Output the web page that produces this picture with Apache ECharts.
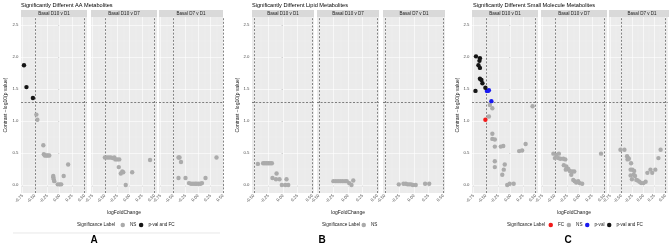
<!DOCTYPE html>
<html><head><meta charset="utf-8">
<script src="https://cdn.jsdelivr.net/npm/echarts@6/dist/echarts.min.js"></script>
<style>html,body{margin:0;padding:0;background:#fff}#c{width:669px;height:245px}</style>
</head><body><div id="c"></div>
<script>
// ---------- tick labels / categories ----------
const facetNames = ['Basal D10 v D1', 'Basal D10 v D7', 'Basal D7 v D1'];
const yTicks = [0, 0.5, 1, 1.5, 2, 2.5];
const yMinor = [0.25, 0.75, 1.25, 1.75, 2.25];
const xTicksAC = [-0.75, -0.5, -0.25, 0, 0.25, 0.5];
const xMinorAC = [-0.625, -0.375, -0.125, 0.125, 0.375];
const xTicksB = [-0.5, -0.25, 0, 0.25, 0.5];
const xMinorB = [-0.375, -0.125, 0.125, 0.375];
const fcThresholds = [-0.5, 0.5];
const pThreshold = 1.30103;
const sigLabels = ['NS', 'FC', 'p-val', 'p-val and FC'];

// ---------- Panel A: AA metabolites ----------
const A1_sig = [[-0.72,1.87],[-0.67,1.53],[-0.54,1.36]];
const A1_ns = [[-0.47,1.10],[-0.45,1.02],[-0.33,0.62],[-0.32,0.48],[-0.30,0.46],[-0.27,0.46],[-0.24,0.46],[-0.21,0.46],
  [-0.13,0.14],[-0.13,0.12],[-0.12,0.09],[-0.11,0.06],[-0.04,0.01],[0.00,0.01],[0.03,0.01],[0.08,0.14],[0.17,0.32]];
const A2_ns = [[-0.50,0.43],[-0.46,0.43],[-0.42,0.43],[-0.38,0.43],[-0.34,0.42],[-0.31,0.43],[-0.29,0.40],[-0.25,0.40],[-0.21,0.40],
  [-0.22,0.28],[-0.15,0.21],[-0.13,0.20],[-0.18,0.18],[-0.08,0.00],[0.05,0.20],[0.41,0.39]];
const A3_ns = [[-0.39,0.43],[-0.37,0.43],[-0.34,0.36],[-0.39,0.11],[-0.25,0.11],[-0.18,0.03],[-0.14,0.02],[-0.10,0.02],[-0.06,0.02],
  [-0.03,0.02],[0.01,0.02],[0.05,0.02],[0.08,0.03],[0.15,0.11],[0.37,0.43]];

// ---------- Panel B: lipid metabolites ----------
const B1_ns = [[-0.43,0.33],[-0.34,0.34],[-0.31,0.34],[-0.28,0.34],[-0.25,0.34],[-0.22,0.34],[-0.19,0.34],[-0.11,0.18],
  [-0.18,0.11],[-0.12,0.09],[-0.06,0.09],[-0.02,0.00],[0.04,0.00],[0.09,0.00],[0.06,0.09]];
const B2_ns = [[-0.25,0.06],[-0.21,0.06],[-0.17,0.06],[-0.13,0.06],[-0.09,0.06],[-0.05,0.06],[-0.02,0.06],[0.02,0.03],[0.06,0.00],[0.09,0.07]];
const B3_ns = [[-0.26,0.01],[-0.18,0.02],[-0.14,0.02],[-0.11,0.01],[-0.08,0.01],[-0.05,0.01],[-0.02,0.00],[0.03,0.00],[0.19,0.02],[0.26,0.02]];

// ---------- Panel C: small molecule metabolites ----------
const C1_sig = [[-0.70,2.01],[-0.62,1.98],[-0.63,1.94],[-0.65,1.87],[-0.62,1.83],[-0.62,1.66],[-0.59,1.64],[-0.57,1.59],[-0.51,1.52],[-0.71,1.47]];
const C1_p = [[-0.48,1.47],[-0.46,1.47],[-0.44,1.48],[-0.39,1.31]];
const C1_fc = [[-0.51,1.02]];
const C1_ns = [[-0.42,1.25],[-0.37,1.20],[-0.44,1.07],[0.44,1.23],[-0.37,0.80],[-0.37,0.72],[-0.32,0.71],[-0.32,0.60],[-0.20,0.60],[-0.15,0.61],
  [-0.32,0.37],[-0.32,0.28],[-0.12,0.32],[-0.14,0.24],[-0.17,0.16],[-0.07,0.00],[-0.02,0.02],[0.06,0.02],[0.17,0.53],[0.23,0.54],[0.30,0.64]];
const C2_ns = [[-0.53,0.49],[-0.47,0.47],[-0.42,0.49],[-0.50,0.42],[-0.43,0.42],[-0.39,0.41],[-0.33,0.41],[-0.29,0.40],[-0.32,0.31],[-0.27,0.29],
  [-0.23,0.25],[-0.28,0.24],[-0.20,0.22],[-0.15,0.21],[-0.11,0.21],[-0.17,0.16],[-0.13,0.08],[-0.10,0.06],[-0.07,0.04],[0.00,0.03],[0.05,0.02],[-0.03,0.06],[0.43,0.49]];
const C3_ns = [[-0.52,0.55],[-0.43,0.55],[-0.37,0.45],[-0.35,0.42],[-0.36,0.40],[-0.33,0.41],[-0.28,0.34],[-0.29,0.24],[-0.25,0.24],[-0.21,0.22],
  [-0.29,0.15],[-0.22,0.16],[-0.19,0.14],[-0.26,0.09],[-0.16,0.08],[-0.13,0.07],[-0.09,0.05],[-0.05,0.03],[0.00,0.03],[0.05,0.05],
  [0.09,0.19],[0.16,0.24],[0.20,0.19],[0.27,0.24],[0.34,0.42],[0.39,0.55]];

// ---------- styling ----------
const FONT = '"Liberation Sans", Arial, sans-serif';
const colors = {'NS':'#ababab','FC':'#f21a1a','p-val':'#1a1af0','p-val and FC':'#151515'};
const GRID_TOP = 17, GRID_H = 176, Y_MIN = -0.125, Y_MAX = 2.625;

const panels = [
  {letter:'A', title:'Significantly Different AA Metabolites', titleX:21,
   lefts:[21,91,159], widths:[66,66,64], xMin:-0.78, xMaxs:[0.55,0.55,0.50],
   xTicks:xTicksAC, xMinor:xMinorAC, yNameGap:13, letterX:94, legendTitleX:77, legendLeft:120.5,
   legendItems:['NS','p-val and FC'],
   facets:[{'NS':A1_ns,'p-val and FC':A1_sig},{'NS':A2_ns},{'NS':A3_ns}], sep:true},
  {letter:'B', title:'Significantly Different Lipid Metabolites', titleX:252,
   lefts:[252,317,383], widths:[62,62,62], xMin:-0.53, xMaxs:[0.53,0.53,0.53],
   xTicks:xTicksB, xMinor:xMinorB, yNameGap:9.5, letterX:322, legendTitleX:322, legendLeft:361.5,
   legendItems:['NS'],
   facets:[{'NS':B1_ns},{'NS':B2_ns},{'NS':B3_ns}], sep:false},
  {letter:'C', title:'Significantly Different Small Molecule Metabolites', titleX:473,
   lefts:[472,541,609], widths:[66,66,66], xMin:-0.78, xMaxs:[0.55,0.55,0.55],
   xTicks:xTicksAC, xMinor:xMinorAC, yNameGap:11.5, letterX:568, legendTitleX:507, legendLeft:548.5,
   legendItems:['FC','NS','p-val','p-val and FC'],
   facets:[{'NS':C1_ns,'FC':C1_fc,'p-val':C1_p,'p-val and FC':C1_sig},{'NS':C2_ns},{'NS':C3_ns}], sep:false}
];

const grids=[], xAxes=[], yAxes=[], series=[], graphics=[], legends=[];
let gi = 0;
panels.forEach(p => {
  graphics.push({type:'text', x:p.titleX, y:5, style:{text:p.title, font:'5.6px '+FONT, fill:'#000', textAlign:'left', textVerticalAlign:'middle'}});
  p.facets.forEach((f, k) => {
    const left = p.lefts[k], w = p.widths[k];
    grids.push({left:left, top:GRID_TOP, width:w, height:GRID_H, show:true, backgroundColor:'#ebebeb', borderWidth:0, containLabel:false});
    xAxes.push({gridIndex:gi, type:'value', min:p.xMin, max:p.xMaxs[k],
      axisLine:{show:false}, splitLine:{show:false},
      axisTick:{show:true, customValues:p.xTicks, length:1.5, lineStyle:{color:'#333', width:0.5}},
      axisLabel:{show:true, customValues:p.xTicks, rotate:45, fontSize:4.3, fontFamily:FONT, color:'#4d4d4d', margin:2,
        formatter:v=>Number(v).toFixed(2)},
      name: k===1 ? 'logFoldChange' : '', nameLocation:'middle', nameGap:14,
      nameTextStyle:{fontSize:5, fontFamily:FONT, color:'#1a1a1a'}});
    yAxes.push({gridIndex:gi, type:'value', min:Y_MIN, max:Y_MAX,
      axisLine:{show:false}, splitLine:{show:false},
      axisTick:{show:k===0, customValues:yTicks, length:1.5, lineStyle:{color:'#333', width:0.5}},
      axisLabel:{show:k===0, customValues:yTicks, fontSize:4.3, fontFamily:FONT, color:'#4d4d4d', margin:2.5,
        formatter:v=>Number(v).toFixed(1)},
      name: k===0 ? 'Contrast \u2212log10(p value)' : '', nameLocation:'middle', nameGap:p.yNameGap, nameRotate:90,
      nameTextStyle:{fontSize:5, fontFamily:FONT, color:'#1a1a1a'}});
    const ml = [];
    p.xMinor.forEach(v=>ml.push({xAxis:v, lineStyle:{color:'#f6f6f6', width:0.35, type:'solid'}}));
    yMinor.forEach(v=>ml.push({yAxis:v, lineStyle:{color:'#f6f6f6', width:0.35, type:'solid'}}));
    p.xTicks.forEach(v=>ml.push({xAxis:v, lineStyle:{color:'#ffffff', width:0.6, type:'solid'}}));
    yTicks.forEach(v=>ml.push({yAxis:v, lineStyle:{color:'#ffffff', width:0.6, type:'solid'}}));
    fcThresholds.forEach(v=>ml.push({xAxis:v, lineStyle:{color:'#333', width:0.6, type:[2,1.6]}}));
    ml.push({yAxis:pThreshold, lineStyle:{color:'#333', width:0.6, type:[2,1.6]}});
    series.push({type:'scatter', name:'_grid'+gi, xAxisIndex:gi, yAxisIndex:gi, data:[], silent:true,
      markLine:{silent:true, z:1, symbol:['none','none'], label:{show:false}, emphasis:{disabled:true}, animation:false, data:ml}});
    sigLabels.forEach(lbl => {
      if (!f[lbl]) return;
      series.push({type:'scatter', name:lbl, xAxisIndex:gi, yAxisIndex:gi, data:f[lbl], symbol:'circle', symbolSize:4.4,
        itemStyle:{color:colors[lbl], opacity:1}, z:3, silent:true, emphasis:{disabled:true}});
    });
    graphics.push({type:'rect', shape:{x:left, y:10, width:w, height:7}, style:{fill:'#d9d9d9'}, z:10});
    graphics.push({type:'text', x:left+w/2, y:13.6, style:{text:facetNames[k], font:'4.5px '+FONT, fill:'#1a1a1a', textAlign:'center', textVerticalAlign:'middle'}, z:11});
    gi++;
  });
  graphics.push({type:'text', x:p.legendTitleX, y:225, style:{text:'Significance Label', font:'4.7px '+FONT, fill:'#1a1a1a', textAlign:'left', textVerticalAlign:'middle'}});
  legends.push({data:p.legendItems, left:p.legendLeft, top:222.6, orient:'horizontal', itemWidth:4.5, itemHeight:4.5, itemGap:2.5,
    icon:'circle', padding:0, selectedMode:false, textStyle:{fontSize:4.6, fontFamily:FONT, color:'#1a1a1a'}});
  graphics.push({type:'text', x:p.letterX, y:240, style:{text:p.letter, font:'bold 10px '+FONT, fill:'#000', textAlign:'center', textVerticalAlign:'middle'}});
  if (p.sep) graphics.push({type:'line', shape:{x1:13, y1:233, x2:220, y2:233}, style:{stroke:'#d9d9d9', lineWidth:0.6}});
});

const chart = echarts.init(document.getElementById('c'), null, {renderer:'canvas'});
chart.setOption({animation:false, backgroundColor:'#ffffff', grid:grids, xAxis:xAxes, yAxis:yAxes, series:series, legend:legends, graphic:graphics});
</script></body></html>
